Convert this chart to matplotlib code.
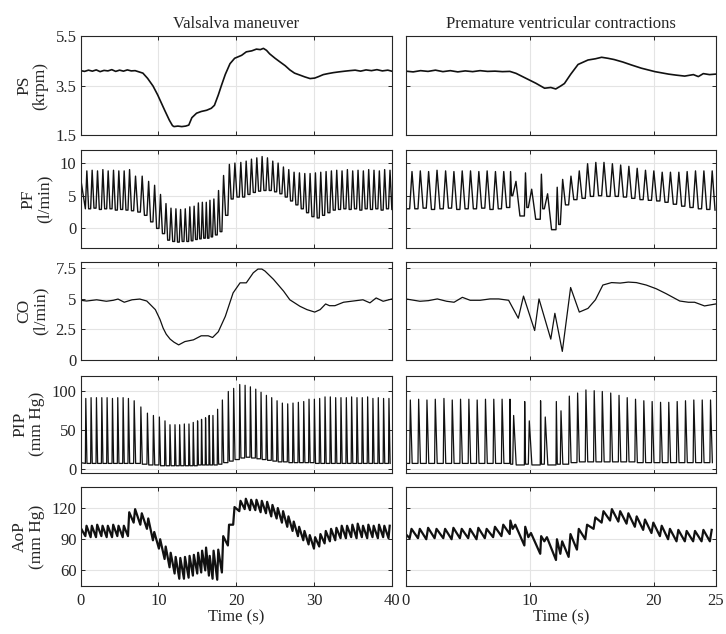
import matplotlib
matplotlib.use("Agg")
import matplotlib.pyplot as plt

plt.rcParams['font.family'] = ['Liberation Serif', 'DejaVu Serif']

# ---------------- data ----------------
col_titles = ["Valsalva maneuver", "Premature ventricular contractions"]
row_labels = ["PS\n(krpm)", "PF\n(l/min)", "CO\n(l/min)", "PIP\n(mm Hg)", "AoP\n(mm Hg)"]
row_ylims = [(1.5, 5.5), (-3, 12), (0, 8), (-5, 120), (45, 140)]
row_yticks = [[1.5, 3.5, 5.5], [0, 5, 10], [0, 2.5, 5, 7.5], [0, 50, 100], [60, 90, 120]]
row_yticklabels = [["1.5", "3.5", "5.5"], ["0", "5", "10"], ["0", "2.5", "5", "7.5"],
                   ["0", "50", "100"], ["60", "90", "120"]]
col_xlims = [(0, 40), (0, 25)]
col_xticks = [[0, 10, 20, 30, 40], [0, 10, 20, 25]]

# pump speed (krpm)
left_ps_t = [0, 0.5, 1, 1.5, 2, 2.5, 3, 3.5, 4, 4.5, 5, 5.5, 6, 6.5, 7, 7.5, 8, 8.6, 9.3, 9.9,
             10.8, 11.4, 11.8, 12.0, 12.5, 13.0, 13.5, 13.9, 14.3, 14.9, 15.5, 16.2, 16.8, 17.2,
             17.7, 18.1, 18.6, 19.2, 19.8, 20.7, 21.3, 22.0, 22.6, 23.1, 23.5, 23.9, 24.3, 25.0,
             25.6, 26.3, 26.9, 27.5, 28.2, 28.8, 29.5, 30.1, 30.6, 31.2, 31.8, 32.5, 33.2, 34.0,
             34.6, 35.3, 36.0, 36.7, 37.4, 38.1, 38.8, 39.5, 40]
left_ps_v = [4.10, 4.07, 4.12, 4.08, 4.13, 4.06, 4.11, 4.09, 4.14, 4.07, 4.12, 4.08, 4.13, 4.09,
             4.10, 4.05, 4.00, 3.79, 3.48, 3.12, 2.50, 2.10, 1.88, 1.84, 1.86, 1.84, 1.86, 1.90,
             2.20, 2.38, 2.45, 2.50, 2.58, 2.70, 3.12, 3.50, 3.95, 4.38, 4.60, 4.72, 4.86, 4.90,
             4.97, 4.95, 5.00, 4.92, 4.78, 4.60, 4.46, 4.30, 4.13, 4.00, 3.92, 3.85, 3.78, 3.80,
             3.86, 3.94, 3.98, 4.02, 4.05, 4.08, 4.10, 4.12, 4.08, 4.13, 4.10, 4.14, 4.09, 4.12, 4.08]
right_ps_t = [0, 0.6, 1.2, 1.8, 2.4, 3.0, 3.6, 4.2, 4.8, 5.4, 6.0, 6.6, 7.2, 7.8, 8.4, 8.9, 9.7,
              10.5, 11.2, 11.7, 12.1, 12.5, 12.8, 13.3, 13.9, 14.7, 15.3, 15.8, 16.3, 16.8, 17.5,
              18.2, 19.0, 20.1, 21.2, 21.8, 22.5, 23.2, 23.6, 24.0, 24.5, 25]
right_ps_v = [4.08, 4.05, 4.10, 4.07, 4.12, 4.06, 4.10, 4.05, 4.09, 4.06, 4.10, 4.07, 4.08, 4.06,
              4.07, 3.99, 3.79, 3.59, 3.39, 3.42, 3.36, 3.48, 3.58, 3.95, 4.35, 4.53, 4.58, 4.64,
              4.60, 4.55, 4.45, 4.33, 4.20, 4.06, 3.96, 3.92, 3.88, 3.94, 3.86, 3.98, 3.94, 3.96]

# cardiac output (l/min)
left_co_t = [0, 0.76, 2.05, 3.3, 4.2, 4.8, 5.6, 6.6, 7.6, 8.5, 9.6, 10.2, 10.6, 11.0, 11.5, 12.0,
             12.6, 13.4, 14.5, 15.5, 16.4, 16.96, 17.7, 18.6, 19.6, 20.5, 21.3, 22.2, 22.8, 23.3,
             23.7, 24.8, 26.1, 26.9, 28.2, 29.1, 30.1, 30.8, 31.5, 32.0, 32.7, 33.8, 34.8, 36.3,
             37.2, 38.0, 38.9, 40]
left_co_v = [4.86, 4.80, 4.90, 4.78, 4.86, 4.96, 4.70, 4.90, 4.96, 4.80, 4.10, 3.30, 2.60, 2.10,
             1.70, 1.45, 1.23, 1.50, 1.64, 1.97, 1.97, 1.83, 2.30, 3.55, 5.46, 6.28, 6.28, 7.10,
             7.40, 7.40, 7.24, 6.56, 5.60, 4.90, 4.37, 4.10, 3.90, 4.10, 4.56, 4.42, 4.42, 4.70,
             4.78, 4.90, 4.65, 5.05, 4.78, 4.96]
right_co_t = [0, 1.15, 1.83, 2.55, 3.3, 3.9, 4.57, 5.2, 6.0, 6.8, 7.5, 8.3, 9.08, 9.5, 10.4, 10.75,
              11.7, 12.03, 12.63, 13.3, 14.0, 14.7, 15.3, 15.9, 16.6, 17.3, 17.95, 18.6, 19.4,
              20.2, 21.0, 22.1, 22.8, 23.3, 24.1, 25]
right_co_v = [4.97, 4.78, 4.83, 4.97, 4.78, 4.70, 5.10, 4.86, 4.86, 4.97, 4.97, 4.86, 3.40, 5.20,
              2.40, 4.97, 1.70, 3.80, 0.70, 5.90, 3.90, 4.20, 4.90, 6.10, 6.30, 6.26, 6.34, 6.30,
              6.10, 5.80, 5.40, 4.80, 4.70, 4.70, 4.40, 4.56]

# beat-by-beat values (s, l/min, mm Hg)
left_beats = [0.60, 1.28, 1.97, 2.66, 3.34, 4.03, 4.71, 5.40, 6.08, 6.81,
              7.67, 8.52, 9.29, 10.06, 10.79, 11.43, 12.08, 12.68, 13.28, 13.88,
              14.43, 14.99, 15.50, 16.02, 16.49, 16.96, 17.56, 18.16, 18.93, 19.61,
              20.40, 21.09, 21.77, 22.46, 23.14, 23.83, 24.51, 25.20, 25.88, 26.57,
              27.25, 27.94, 28.63, 29.31, 30.00, 30.68, 31.37, 32.05, 32.74, 33.42,
              34.11, 34.79, 35.48, 36.16, 36.85, 37.53, 38.22, 38.90, 39.59]
left_pf_hi = [8.8, 8.9, 8.8, 9.0, 8.8, 8.9, 8.8, 8.8, 9.0, 8.0,
              8.0, 7.2, 6.6, 5.2, 3.8, 3.1, 3.0, 2.9, 3.0, 3.3,
              3.4, 3.9, 4.0, 4.0, 4.3, 4.5, 5.8, 8.1, 9.8, 10.0,
              10.1, 10.3, 10.6, 10.8, 11.0, 10.8, 10.3, 10.0, 9.4, 9.0,
              8.6, 8.5, 8.4, 8.4, 8.5, 8.6, 8.7, 8.8, 8.9, 8.8,
              9.0, 8.8, 8.9, 8.8, 9.0, 8.9, 8.8, 9.0, 8.9]
left_pf_lo = [3.0, 3.1, 2.9, 3.0, 3.0, 2.8, 2.9, 2.8, 2.7, 2.5,
              2.0, 1.0, 0.0, -0.8, -1.8, -2.0, -2.1, -2.0, -2.0, -1.9,
              -1.7, -1.6, -1.5, -1.5, -1.3, -1.0, -0.5, 2.0, 4.5, 4.8,
              4.8, 5.2, 5.5, 5.7, 5.8, 5.8, 5.6, 5.3, 4.8, 4.2,
              3.6, 3.0, 2.4, 1.8, 1.6, 2.0, 2.4, 2.8, 2.9, 3.0,
              2.9, 3.0, 2.8, 3.0, 2.9, 3.0, 2.8, 3.0, 2.9]
left_pip_hi = [91, 92, 92, 92, 92, 91, 92, 92, 91, 88,
               80, 72, 69, 67, 62, 57, 57, 57, 58, 58,
               60, 62, 64, 66, 69, 69, 77, 89, 100, 104,
               109, 108, 106, 103, 99, 95, 92, 88, 85, 84,
               85, 86, 87, 90, 90, 91, 93, 93, 92, 92,
               92, 93, 92, 92, 93, 91, 92, 91, 91]
left_pip_lo = [7, 7, 7, 7, 7, 7, 7, 7, 7, 7,
               6, 5, 5, 4, 4, 4, 4, 4, 4, 4,
               4, 5, 5, 5, 5, 5, 6, 8, 10, 12,
               14, 15, 14, 13, 12, 11, 10, 9, 9, 8,
               8, 8, 8, 8, 7, 7, 7, 7, 7, 7,
               7, 7, 7, 7, 7, 7, 7, 7, 7]
left_aop_lo = [93, 92, 92, 93, 92, 92, 93, 92, 93, 106,
               104, 100, 89, 81, 71, 63, 57, 52, 52, 53,
               55, 57, 58, 60, 55, 52, 51, 58, 84, 104,
               117, 119, 118, 118, 116, 115, 112, 110, 106, 102,
               98, 93, 89, 85, 81, 83, 86, 88, 89, 91,
               91, 92, 91, 92, 91, 92, 91, 92, 91]
left_aop_hi = [103, 103, 104, 103, 103, 104, 103, 103, 116, 119,
               115, 110, 97, 90, 83, 77, 73, 72, 73, 74,
               75, 77, 79, 82, 74, 79, 80, 93, 104, 121,
               127, 129, 128, 128, 127, 126, 123, 120, 117, 112,
               107, 102, 98, 94, 92, 95, 98, 100, 101, 103,
               103, 104, 105, 103, 104, 103, 104, 103, 103]

right_beats = [0.32, 0.99, 1.66, 2.33, 3.03, 3.70, 4.37, 5.04, 5.71, 6.38,
               7.05, 7.72, 8.39, 8.63, 9.57, 9.89, 10.85, 11.18, 12.12, 12.47,
               13.14, 13.81, 14.48, 15.15, 15.80, 16.48, 17.15, 17.81, 18.48, 19.15,
               19.82, 20.50, 21.16, 21.84, 22.51, 23.18, 23.86, 24.53]
right_pf_hi = [8.7, 8.8, 8.7, 8.9, 8.8, 8.7, 8.8, 8.8, 8.7, 8.8,
               8.7, 8.7, 8.7, 7.2, 8.5, 6.0, 8.3, 5.3, 6.3, 7.5,
               8.0, 8.8, 9.9, 10.1, 10.1, 9.9, 9.7, 9.5, 9.2, 8.9,
               8.8, 8.6, 8.6, 8.6, 8.7, 8.8, 8.8, 8.8]
right_pf_lo = [3.0, 3.1, 2.9, 3.0, 3.1, 2.9, 3.0, 3.0, 3.1, 2.9,
               3.0, 3.2, 5.0, 1.9, 3.2, 1.4, 3.0, -0.2, 0.6, 3.6,
               4.4, 4.6, 4.9, 5.0, 4.9, 4.9, 4.8, 4.6, 4.4, 4.3,
               4.2, 4.0, 3.7, 3.4, 3.2, 3.0, 2.9, 2.8]
right_pip_hi = [89, 90, 89, 90, 91, 89, 90, 90, 89, 90,
                90, 90, 90, 69, 87, 62, 88, 67, 87, 75,
                94, 98, 102, 101, 100, 98, 95, 92, 90, 88,
                87, 86, 86, 87, 88, 89, 89, 89]
right_pip_lo = [7, 7, 7, 7, 7, 7, 7, 7, 7, 7,
                7, 7, 6, 5, 6, 5, 6, 5, 6, 6,
                8, 9, 9, 9, 9, 9, 9, 9, 8, 8,
                8, 8, 8, 8, 8, 8, 8, 8]
right_aop_lo = [91, 91, 90, 91, 91, 90, 91, 91, 90, 91,
                92, 93, 95, 100, 84, 92, 76, 88, 70, 76,
                73, 80, 90, 100, 106, 108, 107, 105, 102, 99,
                96, 93, 90, 88, 88, 88, 88, 88]
right_aop_hi = [100, 100, 101, 100, 100, 101, 100, 100, 101, 100,
                102, 104, 108, 104, 102, 96, 93, 92, 90, 88,
                95, 100, 104, 111, 117, 119, 117, 115, 112, 109,
                106, 103, 100, 99, 98, 98, 99, 99]

# values at t = 0, before the first beat
left_start = {"pf": 7.6, "pip": 8, "aop": 101}
right_start = {"pf": 3.0, "pip": 7, "aop": 95}


def pulse_trace(beats, hi, lo, start, f_peak, f_back=None):
    # one beat: up from the previous low, peak, back down (fractions of the beat interval)
    t, v = [0.0], [start]
    for i, tb in enumerate(beats):
        gap = beats[i + 1] - tb if i + 1 < len(beats) else tb - beats[i - 1]
        if f_back is None:
            t += [tb, tb + f_peak * gap]
            v += [lo[i], hi[i]]
        else:
            prev = lo[i - 1] if i > 0 else lo[i]
            t += [tb, tb + f_peak * gap, tb + f_back * gap]
            v += [prev, hi[i], lo[i]]
    return t, v


columns = [
    dict(ps=(left_ps_t, left_ps_v), co=(left_co_t, left_co_v), beats=left_beats,
         pf=(left_pf_hi, left_pf_lo), pip=(left_pip_hi, left_pip_lo),
         aop=(left_aop_hi, left_aop_lo), start=left_start),
    dict(ps=(right_ps_t, right_ps_v), co=(right_co_t, right_co_v), beats=right_beats,
         pf=(right_pf_hi, right_pf_lo), pip=(right_pip_hi, right_pip_lo),
         aop=(right_aop_hi, right_aop_lo), start=right_start),
]

# ---------------- figure ----------------
W, H = 726, 634
fig = plt.figure(figsize=(W / 100, H / 100), dpi=100)
rows_px = [(36, 135), (150, 248), (261.7, 360), (376, 472.7), (487.3, 586)]
cols_px = [(80.7, 391.7), (405.7, 715.7)]
edge = '#262626'
line_c = '#111111'

for c, (x0, x1) in enumerate(cols_px):
    d = columns[c]
    for r, (y0, y1) in enumerate(rows_px):
        ax = fig.add_axes([x0 / W, 1 - y1 / H, (x1 - x0) / W, (y1 - y0) / H])

        if r == 0:
            ax.plot(*d["ps"], color=line_c, lw=1.2)
            ax.set_title(col_titles[c], fontsize=12, color=edge, pad=6)
        elif r == 1:
            t, v = pulse_trace(d["beats"], *d["pf"], d["start"]["pf"], 0.28, 0.62)
            ax.plot(t, v, color=line_c, lw=1.0)
        elif r == 2:
            ax.plot(*d["co"], color=line_c, lw=0.9)
        elif r == 3:
            t, v = pulse_trace(d["beats"], *d["pip"], d["start"]["pip"], 0.08, 0.3)
            ax.plot(t, v, color=line_c, lw=0.9)
        else:
            t, v = pulse_trace(d["beats"], *d["aop"], d["start"]["aop"], 0.22)
            ax.plot(t, v, color=line_c, lw=1.6)

        ax.set_xlim(*col_xlims[c])
        ax.set_ylim(*row_ylims[r])
        ax.set_xticks(col_xticks[c])
        ax.set_yticks(row_yticks[r])
        ax.grid(True, color='#e4e4e4', lw=0.8)
        ax.set_axisbelow(True)
        ax.tick_params(direction='in', top=True, right=True, length=3, width=0.7,
                       colors=edge, labelsize=12, pad=3)
        for s in ax.spines.values():
            s.set_color(edge)
            s.set_linewidth(0.8)

        if c == 0:
            ax.set_yticklabels(row_yticklabels[r])
            ax.set_ylabel(row_labels[r], fontsize=12.5, color=edge, linespacing=1.05,
                          labelpad=5)
        else:
            ax.tick_params(labelleft=False)
        if r == len(rows_px) - 1:
            ax.tick_params(axis='x', pad=5)
            ax.set_xlabel("Time (s)", fontsize=12, color=edge, labelpad=0)
        else:
            ax.tick_params(labelbottom=False)

fig.savefig("out.png", dpi=100)
